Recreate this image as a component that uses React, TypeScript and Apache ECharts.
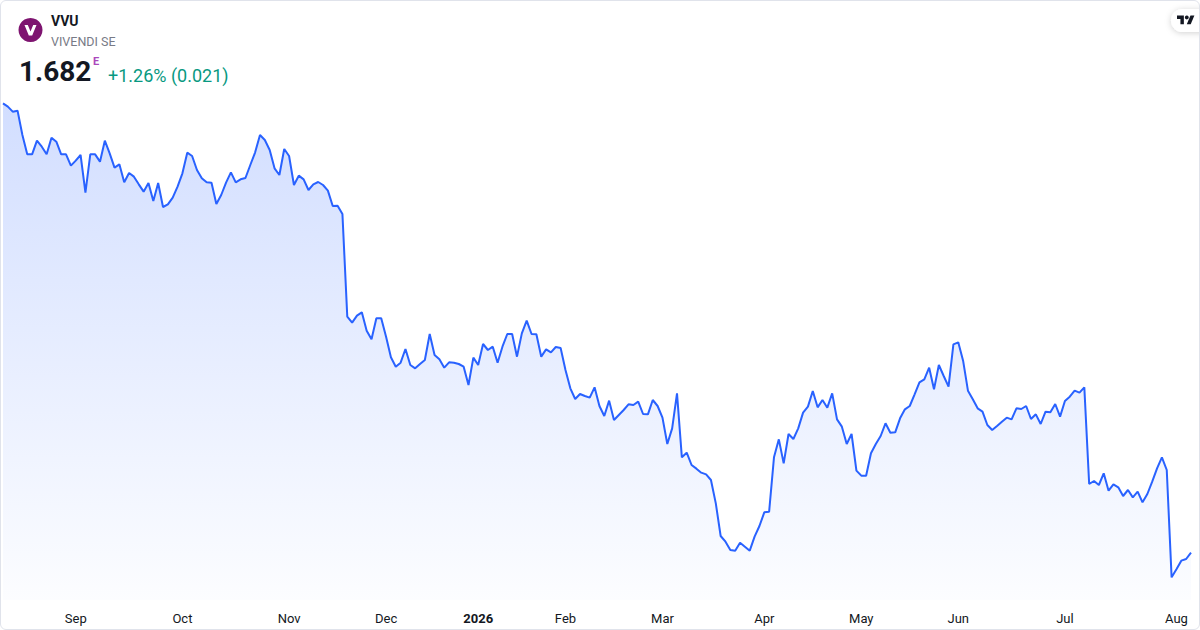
import React, { useEffect, useRef } from "react";
import * as echarts from "echarts";

const prices: number[] = [
  3.030, 3.020, 3.005, 3.008, 2.935, 2.877, 2.877, 2.918, 2.900, 2.877,
  2.927, 2.915, 2.877, 2.877, 2.843, 2.858, 2.875, 2.762, 2.877, 2.877,
  2.855, 2.918, 2.880, 2.837, 2.847, 2.793, 2.821, 2.810, 2.787, 2.765,
  2.791, 2.737, 2.791, 2.719, 2.727, 2.747, 2.780, 2.820, 2.882, 2.872,
  2.830, 2.805, 2.793, 2.792, 2.728, 2.755, 2.792, 2.823, 2.793, 2.802,
  2.806, 2.845, 2.883, 2.935, 2.920, 2.890, 2.835, 2.815, 2.893, 2.872,
  2.785, 2.813, 2.802, 2.770, 2.787, 2.794, 2.785, 2.768, 2.722, 2.723,
  2.698, 2.390, 2.372, 2.393, 2.403, 2.348, 2.322, 2.385, 2.385, 2.330,
  2.268, 2.240, 2.252, 2.293, 2.245, 2.235, 2.248, 2.260, 2.338, 2.275,
  2.262, 2.237, 2.253, 2.252, 2.248, 2.240, 2.185, 2.267, 2.245, 2.308,
  2.290, 2.300, 2.252, 2.300, 2.338, 2.338, 2.270, 2.340, 2.378, 2.338,
  2.337, 2.270, 2.292, 2.283, 2.299, 2.296, 2.230, 2.175, 2.143, 2.158,
  2.152, 2.147, 2.178, 2.122, 2.092, 2.138, 2.080, 2.095, 2.110, 2.127,
  2.125, 2.135, 2.098, 2.097, 2.140, 2.122, 2.087, 2.008, 2.055, 2.160,
  1.968, 1.982, 1.945, 1.934, 1.922, 1.917, 1.900, 1.830, 1.732, 1.715,
  1.690, 1.688, 1.712, 1.700, 1.688, 1.730, 1.762, 1.803, 1.805, 1.968,
  2.022, 1.950, 2.038, 2.023, 2.055, 2.102, 2.120, 2.167, 2.118, 2.140,
  2.117, 2.160, 2.082, 2.060, 2.008, 2.038, 1.928, 1.913, 1.913, 1.980,
  2.008, 2.032, 2.070, 2.042, 2.043, 2.085, 2.112, 2.122, 2.157, 2.193,
  2.202, 2.237, 2.172, 2.245, 2.212, 2.180, 2.307, 2.313, 2.258, 2.168,
  2.142, 2.115, 2.105, 2.065, 2.050, 2.062, 2.075, 2.087, 2.082, 2.115,
  2.113, 2.122, 2.083, 2.097, 2.068, 2.105, 2.103, 2.128, 2.090, 2.137,
  2.150, 2.168, 2.162, 2.178, 1.888, 1.897, 1.885, 1.920, 1.868, 1.887,
  1.878, 1.852, 1.870, 1.848, 1.865, 1.833, 1.858, 1.895, 1.935, 1.968,
  1.930, 1.608, 1.632, 1.658, 1.663, 1.682,
];

const tickIndexes: number[] = [15, 37, 59, 79, 98, 116, 136, 157, 177, 197, 219, 242];
const tickLabels: string[] = ["Sep", "Oct", "Nov", "Dec", "2026", "Feb", "Mar", "Apr", "May", "Jun", "Jul", "Aug"];
const boldTicks: string[] = ["2026"];

const symbol = "VVU";
const companyName = "VIVENDI SE";
const lastPrice = "1.682";
const changeText = "+1.26% (0.021)";

const FONT = "Roboto, 'Noto Sans', sans-serif";

export default function App() {
  const ref = useRef<HTMLDivElement>(null);

  useEffect(() => {
    document.body.style.margin = "0";
    if (!ref.current) return;
    const chart = echarts.init(ref.current, undefined, { renderer: "svg" });
    const data = prices.map((v, i) => [i, v]);

    chart.setOption({
      animation: false,
      textStyle: { fontFamily: FONT },
      grid: { left: 3, right: 9, top: 90, bottom: 30, containLabel: false },
      xAxis: {
        type: "value",
        min: 0,
        max: prices.length - 1,
        axisLine: { show: false },
        axisTick: { show: false },
        splitLine: { show: false },
        axisLabel: {
          customValues: tickIndexes,
          margin: 11.5,
          fontSize: 13,
          color: "#131722",
          fontFamily: FONT,
          formatter: (v: number) => {
            const k = tickIndexes.indexOf(Math.round(v));
            if (k < 0) return "";
            const t = tickLabels[k];
            return boldTicks.includes(t) ? `{b|${t}}` : t;
          },
          rich: {
            b: { fontWeight: "bold", fontSize: 13, color: "#131722", fontFamily: FONT },
          },
        },
      },
      yAxis: {
        type: "value",
        min: 1.54,
        max: 3.07,
        show: false,
        splitLine: { show: false },
      },
      series: [
        {
          type: "line",
          data,
          symbol: "none",
          showSymbol: false,
          lineStyle: { color: "#2962FF", width: 2 },
          itemStyle: { color: "#2962FF" },
          areaStyle: {
            color: new echarts.graphic.LinearGradient(0, 0, 0, 1, [
              { offset: 0, color: "rgba(41,98,255,0.30)" },
              { offset: 1, color: "rgba(41,98,255,0.02)" },
            ]),
          },
        },
      ],
      graphic: [
        {
          type: "circle",
          shape: { cx: 30.5, cy: 30, r: 12 },
          style: { fill: "#7E1470" },
          z: 10,
        },
        {
          type: "polygon",
          shape: {
            points: [
              [24.5, 25], [27.8, 25], [30.5, 31.5], [33.2, 25], [36.5, 25], [32.2, 35.5], [28.8, 35.5],
            ],
          },
          style: { fill: "#ffffff" },
          z: 11,
        },
        {
          type: "text",
          x: 51,
          y: 21,
          style: {
            text: symbol,
            font: `bold 14px ${FONT}`,
            fill: "#131722",
            verticalAlign: "middle",
          },
          z: 10,
        },
        {
          type: "text",
          x: 51,
          y: 41,
          style: {
            text: companyName,
            font: `12.5px ${FONT}`,
            fill: "#787B86",
            verticalAlign: "middle",
          },
          z: 10,
        },
        {
          type: "text",
          x: 19,
          y: 71,
          style: {
            text: lastPrice,
            font: `bold 28px ${FONT}`,
            fill: "#131722",
            verticalAlign: "middle",
          },
          z: 10,
        },
        {
          type: "text",
          x: 93,
          y: 61,
          style: {
            text: "E",
            font: `bold 11px ${FONT}`,
            fill: "#AB47BC",
            verticalAlign: "middle",
          },
          z: 10,
        },
        {
          type: "text",
          x: 108,
          y: 75,
          style: {
            text: changeText,
            font: `18px ${FONT}`,
            fill: "#089981",
            verticalAlign: "middle",
          },
          z: 10,
        },
        {
          type: "rect",
          shape: { x: 1171, y: 9, width: 42, height: 23, r: 11.5 },
          style: {
            fill: "#ffffff",
            shadowBlur: 6,
            shadowColor: "rgba(0,0,0,0.18)",
            shadowOffsetY: 1,
          },
          z: 10,
        },
        {
          type: "group",
          x: 1177,
          y: 13.5,
          scaleX: 0.49,
          scaleY: 0.49,
          z: 11,
          children: [
            {
              type: "polygon",
              shape: { points: [[14, 22], [7, 22], [7, 11], [0, 11], [0, 4], [14, 4]] },
              style: { fill: "#131722" },
              z: 11,
            },
            {
              type: "polygon",
              shape: { points: [[28, 22], [20, 22], [27.5, 4], [35.5, 4]] },
              style: { fill: "#131722" },
              z: 11,
            },
            {
              type: "circle",
              shape: { cx: 20, cy: 8, r: 4 },
              style: { fill: "#131722" },
              z: 11,
            },
          ],
        },
      ],
    });

    return () => chart.dispose();
  }, []);

  return (
    <div style={{ position: "relative", width: 1200, height: 630, background: "#ffffff", overflow: "hidden" }}>
      <div ref={ref} style={{ position: "absolute", left: 0, top: 0, width: 1200, height: 630 }} />
      <div
        style={{
          position: "absolute",
          left: 0,
          top: 0,
          width: 1200,
          height: 630,
          boxSizing: "border-box",
          border: "1px solid #E0E3EB",
          borderRadius: 6,
          pointerEvents: "none",
        }}
      />
    </div>
  );
}
